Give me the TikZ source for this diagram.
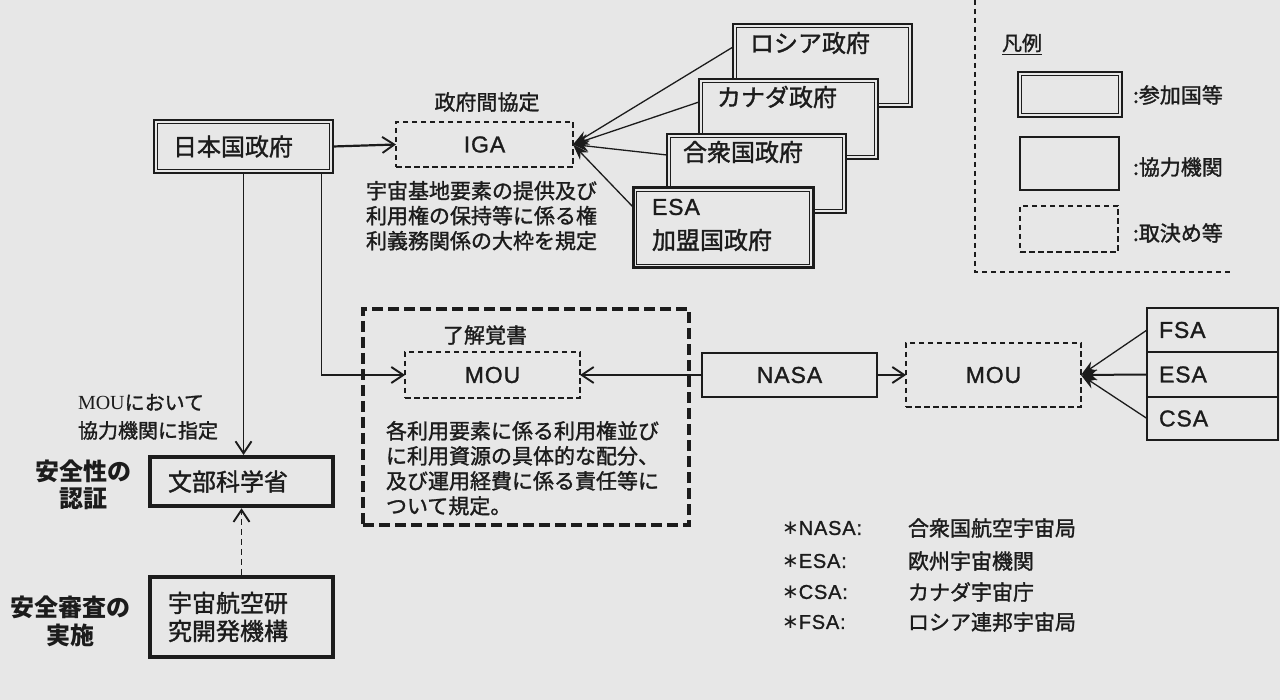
\documentclass[tikz,border=0pt]{standalone}
\usepackage{fontspec}
\setmainfont[FakeBold=1.4]{Noto Sans CJK JP}
\newfontfamily\heavyj{Noto Sans CJK JP}
\newfontfamily\latf[LetterSpace=4,FakeBold=1.2]{Liberation Sans}
\newfontfamily\serf{Liberation Serif}
\newfontfamily\djv{DejaVu Sans}
\usetikzlibrary{arrows.meta,calc}
\definecolor{bg}{HTML}{E7E7E7}
\definecolor{ink}{HTML}{1C1C1C}
% double-framed box: name, position, width, height, content
\newcommand\pbox[6][]{%
  \node[party,#1,minimum width=#4,minimum height=#5] (#2) at (#3) {#6};
  \draw[ink, line width=0.9pt] ([shift={(3.6pt,-3.6pt)}]#2.north west) rectangle ([shift={(-3.6pt,3.6pt)}]#2.south east);}
\begin{document}
\begin{tikzpicture}[x=1pt,y=-1pt,
  every node/.style={text=ink, inner sep=0pt, outer sep=0pt},
  party/.style={rectangle, draw=ink, line width=2.2pt, fill=bg},
  coop/.style={rectangle, draw=ink, line width=1.4pt, fill=bg},
  agree/.style={rectangle, draw=ink, line width=1.3pt, dash pattern=on 5.5pt off 3.5pt},
  heavy/.style={rectangle, draw=ink, line width=4.5pt},
  conn/.style={draw=ink, line width=1.3pt},
  barb/.style={-{Straight Barb[length=12pt,width=16pt,line width=1.9pt]}},
  conv/.style={-{Stealth[length=16pt,width=11pt]}},
  jbig/.style={font=\fontsize{24}{28}\selectfont},
  jmid/.style={font=\fontsize{21}{24}\selectfont},
  lat/.style={font=\latf\fontsize{23}{26}\selectfont},
]
\fill[bg] (0,0) rectangle (1280,700);
\useasboundingbox (0,0) rectangle (1280,700);

% ---------- legend ----------
\coordinate (lgtop) at (975,0);
\coordinate (lgcorner) at (975,272);
\coordinate (lgend) at (1233,272);
\draw[ink, line width=1.2pt, dash pattern=on 5pt off 4pt] (lgtop) -- (lgcorner) -- (lgend);
\node[anchor=west, font=\fontsize{20}{24}\selectfont] (hanrei) at (1002,43) {凡例};
\draw[ink, line width=1pt] ([yshift=-2pt]hanrei.south west) -- ([yshift=-2pt]hanrei.south east);
\pbox{lgparty}{1070,94.5}{104pt}{45pt}{}
\node[coop, minimum width=99pt, minimum height=53pt] (lgcoop) at (1069.5,163.5) {};
\node[agree, minimum width=98pt, minimum height=46pt] (lgagree) at (1069,229) {};
\node[anchor=west, jmid] (lgt1) at (1133,95) {:参加国等};
\node[anchor=west, jmid] (lgt2) at (1133,167) {:協力機関};
\node[anchor=west, jmid] (lgt3) at (1133,233) {:取決め等};

% ---------- IGA part ----------
\pbox[jbig, text width=141pt, align=left, inner xsep=19pt]{japan}{243.5,146.5}{179pt}{53pt}{日本国政府}
\node[agree, minimum width=177pt, minimum height=45pt, lat] (iga) at (484.5,144.5) {IGA};
\node[jmid] (igalbl) at (487,102) {政府間協定};
\node[anchor=north west, align=left, font=\fontsize{21}{25}\selectfont] (igadesc) at (366,181) {宇宙基地要素の提供及び\\利用権の保持等に係る権\\利義務関係の大枠を規定};

\pbox{rus}{822.5,65.5}{179pt}{83pt}{}
\node[jbig, anchor=west] (rust) at (750,43) {ロシア政府};
\pbox{can}{788.5,119}{179pt}{80pt}{}
\node[jbig, anchor=west] (cant) at (717,97) {カナダ政府};
\pbox{usa}{756.5,173.5}{179pt}{79pt}{}
\node[jbig, anchor=west] (usat) at (683,152) {合衆国政府};
\pbox[line width=3pt]{esa}{723,228}{180pt}{80pt}{}
\node[lat, anchor=west] (esat1) at (652,207) {ESA};
\node[jbig, anchor=west] (esat2) at (652,240) {加盟国政府};

\draw[conn, conv] ([yshift=-23pt]rus.north west) -- (iga.east);
\draw[conn, conv] ([yshift=-23pt]can.north west) -- (iga.east);
\draw[conn, conv] ([yshift=-21pt]usa.north west) -- (iga.east);
\draw[conn, conv] ([yshift=-19pt]esa.north west) -- (iga.east);
\draw[conn, barb, line width=2.2pt] (japan.east) -- (iga.west);

% ---------- left column ----------
\node[heavy, minimum width=183pt, minimum height=49pt, jbig, text width=147pt, align=left, inner xsep=18pt] (monbu) at (241.5,481.5) {文部科学省};
\node[heavy, minimum width=183pt, minimum height=80pt, text width=147pt, align=left, inner xsep=18pt, font=\fontsize{24}{28}\selectfont] (jaxa) at (241.5,617) {宇宙航空研\\究開発機構};
\node[anchor=north west, align=left, font=\fontsize{20}{28}\selectfont] (mouspec) at (78,394) {{\serf MOU}において\\協力機関に指定};
\node[align=center, font=\heavyj\bfseries\fontsize{24}{27}\selectfont] (anzen1) at (83,485) {安全性の\\認証};
\node[align=center, font=\heavyj\bfseries\fontsize{24}{28}\selectfont] (anzen2) at (70,621) {安全審査の\\実施};

% ---------- MOU frame ----------
\node[rectangle, draw=ink, line width=3.8pt, dash pattern=on 11pt off 5pt, minimum width=326pt, minimum height=216pt] (frame) at (526,417) {};
\node[jmid] (ryokai) at (485,335) {了解覚書};
\node[agree, minimum width=175pt, minimum height=46pt, lat] (mou1) at (492.5,375) {MOU};
\node[anchor=north west, align=left, font=\fontsize{21}{25}\selectfont] (moudesc) at (386,421) {各利用要素に係る利用権並び\\に利用資源の具体的な配分、\\及び運用経費に係る責任等に\\ついて規定。};

\draw[conn, barb] (japan.south) -- ([yshift=2pt]japan.south |- monbu.north);
\draw[conn, barb, line width=1.8pt] ([xshift=78pt]japan.south) |- (mou1.west);
\draw[conn, barb, dash pattern=on 6pt off 4pt] ([yshift=2.25pt]jaxa.north) -- ([yshift=-2.25pt]monbu.south);

% ---------- right part ----------
\node[coop, minimum width=175pt, minimum height=44pt, lat] (nasa) at (789.5,375) {NASA};
\node[agree, minimum width=175pt, minimum height=64pt, lat] (mou2) at (993.5,375) {MOU};
\node[coop, minimum width=131pt, minimum height=44pt, lat, text width=107pt, align=left, inner xsep=12pt] (fsa) at (1212.5,330) {FSA};
\node[coop, minimum width=131pt, minimum height=45pt, lat, text width=107pt, align=left, inner xsep=12pt] (esb) at (1212.5,374.5) {ESA};
\node[coop, minimum width=131pt, minimum height=43pt, lat, text width=107pt, align=left, inner xsep=12pt] (csa) at (1212.5,418.5) {CSA};

\draw[conn, barb, line width=2.2pt] (nasa.west) -- (mou1.east);
\draw[conn, barb, line width=2.2pt] (nasa.east) -- (mou2.west);
\draw[conn, conv] (fsa.west) -- (mou2.east);
\draw[conn, conv, line width=2pt] (esb.west) -- (mou2.east);
\draw[conn, conv] (csa.west) -- (mou2.east);

% ---------- footnotes ----------
\node[anchor=west, font=\fontsize{20}{22}\selectfont] (fn1a) at (782,528) {{\djv ∗}{\latf NASA:}};
\node[anchor=west, font=\fontsize{20}{22}\selectfont] (fn2a) at (782,561) {{\djv ∗}{\latf ESA:}};
\node[anchor=west, font=\fontsize{20}{22}\selectfont] (fn3a) at (782,592) {{\djv ∗}{\latf CSA:}};
\node[anchor=west, font=\fontsize{20}{22}\selectfont] (fn4a) at (782,622) {{\djv ∗}{\latf FSA:}};
\node[anchor=west, jmid] (fn1b) at (908,528) {合衆国航空宇宙局};
\node[anchor=west, jmid] (fn2b) at (908,561) {欧州宇宙機関};
\node[anchor=west, jmid] (fn3b) at (908,592) {カナダ宇宙庁};
\node[anchor=west, jmid] (fn4b) at (908,622) {ロシア連邦宇宙局};
\end{tikzpicture}
\end{document}
